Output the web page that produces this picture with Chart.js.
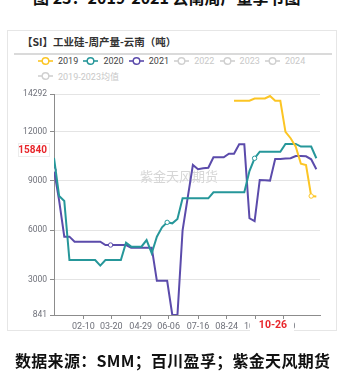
<!DOCTYPE html>
<html>
<head>
<meta charset="utf-8">
<script src="https://cdn.jsdelivr.net/npm/chart.js@4.4.1/dist/chart.umd.min.js"></script>
<style>
    body { margin: 0; background: #fff; width: 345px; height: 376px; overflow: hidden; position: relative; font-family: Roboto, "Noto Sans CJK SC", sans-serif; }
    #fig-title { position: absolute; left: 33px; top: -11px; font: bold 16px "Noto Sans CJK SC"; color: #111; white-space: nowrap; line-height: 16px; }
    #panel { position: absolute; left: 7px; top: 30px; width: 330px; height: 301px; border: 1px solid #e6e6e6; box-sizing: border-box; }
    #panel-title { position: absolute; left: 22px; top: 35px; font: bold 10.5px "Noto Sans CJK SC"; color: #333; white-space: nowrap; line-height: 14px; }
    #title-rule { position: absolute; left: 14px; top: 53px; width: 318px; height: 1.5px; background: #dadada; }
    .legend-item { position: absolute; height: 12px; display: flex; align-items: center; font-size: 9px; white-space: nowrap; }
    .legend-item svg { margin-right: 5px; }
    #source { position: absolute; left: 15px; top: 350px; font: bold 16px "Noto Sans CJK SC"; color: #111; white-space: nowrap; line-height: 20px; letter-spacing: 0.3px; }
    #chart { position: absolute; left: 0; top: 0; }
</style>
</head>
<body>
<div id="fig-title">图 23：2019-2021 云南周产量季节图</div>
<div id="panel"></div>
<div id="panel-title">【SI】工业硅-周产量-云南（吨）</div>
<div id="title-rule"></div>
<div id="legend"></div>
<canvas id="chart" width="345" height="376"></canvas>
<div id="source">数据来源：SMM；百川盈孚；紫金天风期货</div>

<script>
// weekly output, one value per week starting 01-01
const seriesNames = ['2019', '2020', '2021', '2022', '2023', '2024', '2019-2023均值'];
const seriesColors = ['#fcc524', '#26979a', '#5b4bab', '#d0d0d0', '#d0d0d0', '#d0d0d0', '#d0d0d0'];
const seriesShown = [true, true, true, false, false, false, false];

const tickDates = ['02-10', '03-20', '04-29', '06-06', '07-16', '08-24', '10-02', '11-10'];
const yTicks = [841, 3000, 6000, 9000, 12000, 14292];

const out2019 = [
    null, null, null, null, null, null, null, null, null, null,
    null, null, null, null, null, null, null, null, null, null,
    null, null, null, null, null, null, null, null, null, null,
    null, null, null, null, null,
    13880, 13880, 13880, 13880, 14020, 14020, 14020, 14170, 13880, 13880,
    11990, 11600, 11090, 10050, 9970, 8080, 8050
];
const out2020 = [
    10400, 8080, 7780, 4190, 4190, 4190, 4190, 4190, 4190, 3850,
    4190, 4190, 4190, 4190, 5240, 5000, 5000, 5000, 5400, 4600,
    5610, 6180, 6480, 6420, 6680, 7940, 7940, 7940, 7940, 7940,
    7940, 8310, 8310, 8310, 8310, 8310, 8310, 8310, 9600, 10380,
    10780, 10780, 10780, 10780, 10780, 11250, 11250, 11250, 11090, 11090,
    11090, 10380
];
const out2021 = [
    9665, 7800, 5610, 5610, 5300, 5300, 5300, 5300, 5300, 5300,
    5100, 5100, 5100, 5100, 5100, 4940, 4940, 4940, 4940, 4940,
    2920, 2920, 2920, 841, 841, 6000, 8000, 9970, 9710, 9770,
    9800, 10440, 10440, 10440, 10660, 10660, 11230, 11230, 6730, 6550,
    9060, 9040, 9020, 10340, 10340, 10360, 10380, 10520, 10520, 10500,
    10320, 9710
];

// highlighted crosshair readouts
const pointerY = '15840';
const pointerX = '10-26';

const monthDays = [31, 28, 31, 30, 31, 30, 31, 31, 30, 31, 30, 31];

function dayOfYear(md) {
    const [m, d] = md.split('-').map(Number);
    let n = d - 1;
    for (let k = 0; k < m - 1; k++) n += monthDays[k];
    return n;
}

function toPoints(values) {
    return values.map((v, i) => ({x: i * 7, y: v}));
}

// legend rows
const legendEl = document.getElementById('legend');
seriesNames.forEach((name, i) => {
    const item = document.createElement('div');
    item.className = 'legend-item';
    const row = i < 6 ? 0 : 1;
    const col = i < 6 ? i : 0;
    item.style.left = (38 + col * 45.4) + 'px';
    item.style.top = (55 + row * 15) + 'px';
    item.style.color = seriesShown[i] ? '#444' : '#c8c8c8';
    item.innerHTML = `<svg width="15" height="10"><line x1="0" y1="5" x2="15" y2="5" stroke="${seriesColors[i]}" stroke-width="1.6"/><circle cx="7.5" cy="5" r="3.3" fill="#fff" stroke="${seriesColors[i]}" stroke-width="1.4"/></svg><span>${name}</span>`;
    legendEl.appendChild(item);
});

const markers = {
    '2019': [50],
    '2020': [22, 39],
    '2021': [0, 11]
};

function makeSet(label, values, color) {
    return {
        label: label,
        data: toPoints(values),
        borderColor: color,
        backgroundColor: color,
        borderWidth: 2,
        tension: 0,
        pointRadius: ctx => markers[label].includes(ctx.dataIndex) ? 2.2 : 0,
        pointBackgroundColor: '#fff',
        pointBorderColor: color,
        pointBorderWidth: 1
    };
}

const overlay = {
    id: 'overlay',
    beforeDatasetsDraw(chart) {
        const ctx = chart.ctx;
        ctx.save();
        ctx.font = '13px "Noto Sans CJK SC"';
        ctx.fillStyle = '#d6d6d6';
        ctx.textBaseline = 'middle';
        ctx.fillText('紫金天风期货', 140, 176);
        ctx.restore();
    },
    afterDraw(chart) {
        const ctx = chart.ctx;
        const xs = chart.scales.x;
        ctx.save();
        ctx.textBaseline = 'middle';
        ctx.font = 'bold 10px Roboto';

        // y readout
        ctx.fillStyle = '#fff';
        ctx.fillRect(18, 143, 32, 14);
        ctx.strokeStyle = '#ececec';
        ctx.strokeRect(18.5, 143.5, 31, 13);
        ctx.fillStyle = '#e8262b';
        ctx.textAlign = 'right';
        ctx.fillText(pointerY, 47, 150.5);

        // x readout
        const px = xs.getPixelForValue(dayOfYear(pointerX));
        ctx.fillStyle = '#fff';
        ctx.fillRect(px - 23, 319, 44, 13);
        ctx.fillStyle = '#e8262b';
        ctx.textAlign = 'center';
        ctx.font = 'bold 10.5px Roboto';
        ctx.fillText(pointerX, px, 325.5);
        ctx.restore();
    }
};

new Chart(document.getElementById('chart'), {
    type: 'line',
    data: {
        datasets: [
            makeSet('2019', out2019, seriesColors[0]),
            makeSet('2020', out2020, seriesColors[1]),
            makeSet('2021', out2021, seriesColors[2])
        ]
    },
    options: {
        responsive: false,
        animation: false,
        devicePixelRatio: 1,
        layout: {padding: {left: 0, top: 94, right: 25, bottom: 41}},
        plugins: {legend: {display: false}, tooltip: {enabled: false}},
        scales: {
            x: {
                type: 'linear',
                min: 0,
                max: 362,
                afterBuildTicks: scale => {
                    scale.ticks = tickDates.map(d => ({value: dayOfYear(d)}));
                },
                afterFit: scale => { scale.height = 20; },
                grid: {drawOnChartArea: false, drawTicks: true, tickLength: 4, tickColor: '#8c8c8c'},
                border: {color: '#8c8c8c', width: 1},
                ticks: {
                    autoSkip: false,
                    maxRotation: 0,
                    padding: 2,
                    color: '#6e7079',
                    font: {size: 9, family: 'Roboto'},
                    callback: (v, i) => tickDates[i]
                }
            },
            y: {
                min: 841,
                max: 14292,
                afterBuildTicks: scale => {
                    scale.ticks = yTicks.map(v => ({value: v}));
                },
                afterFit: scale => { scale.width = 54; },
                grid: {color: '#e4e4e4', lineWidth: 1, tickLength: 4, tickColor: '#8c8c8c'},
                border: {color: '#8c8c8c', width: 1},
                ticks: {
                    padding: 3,
                    color: '#6e7079',
                    font: {size: 8.5, family: 'Roboto'},
                    callback: v => String(v)
                }
            }
        }
    },
    plugins: [overlay]
});
</script>
</body>
</html>
